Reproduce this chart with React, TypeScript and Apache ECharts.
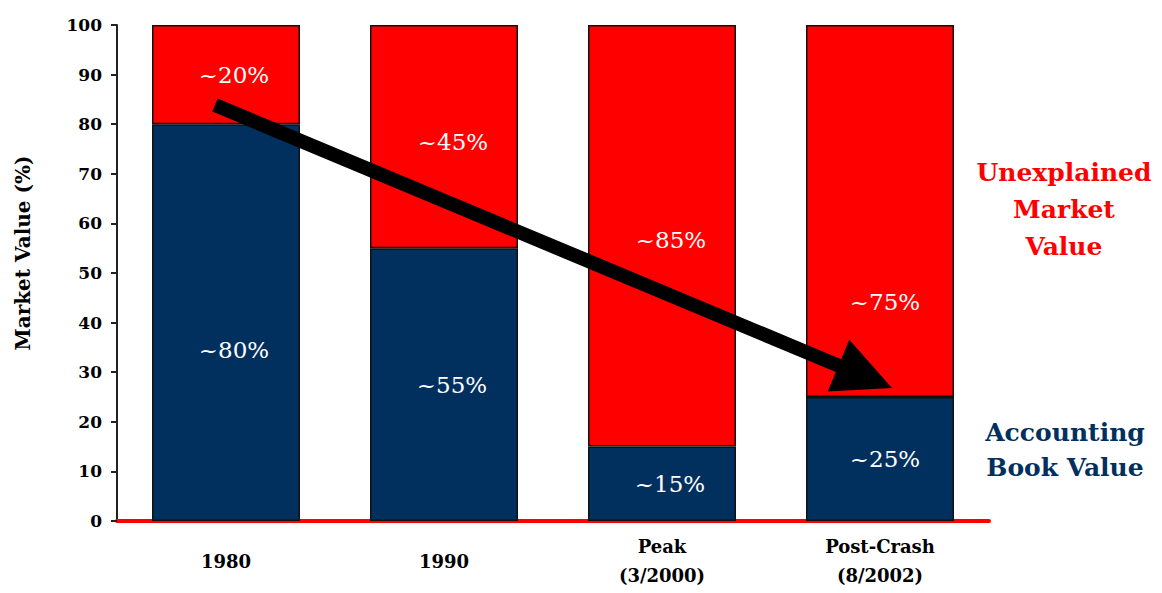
import React, { useEffect, useRef } from "react";
import * as echarts from "echarts";

// Share of market value explained by book value vs. unexplained, by period
const categories = ["1980", "1990", "Peak\n(3/2000)", "Post-Crash\n(8/2002)"];
const bookValue = [80, 55, 15, 25];
const unexplainedValue = [20, 45, 85, 75];
const yTicks = { min: 0, max: 100, interval: 10 };

const NAVY = "#02305E";
const RED = "#FF0000";
const SERIF = "'DejaVu Serif', serif";

// Label nudges so the percentages sit clear of the trend arrow
const bookLabelOffsets: [number, number][] = [[8, 27], [8, 0], [8, 0], [5, 0]];
const unexplainedLabelOffsets: [number, number][] = [[8, 0], [9, 5], [9, 4], [5, 91]];

// Thick arrow polygon from a start point to a tip
function arrowPoints(sx: number, sy: number, tx: number, ty: number, shaftHalf: number, headLen: number, headHalf: number) {
  const dx = tx - sx;
  const dy = ty - sy;
  const len = Math.hypot(dx, dy);
  const ux = dx / len;
  const uy = dy / len;
  const nx = -uy;
  const ny = ux;
  const bx = tx - ux * headLen;
  const by = ty - uy * headLen;
  return [
    [sx + nx * shaftHalf, sy + ny * shaftHalf],
    [bx + nx * shaftHalf, by + ny * shaftHalf],
    [bx + nx * headHalf, by + ny * headHalf],
    [tx, ty],
    [bx - nx * headHalf, by - ny * headHalf],
    [bx - nx * shaftHalf, by - ny * shaftHalf],
    [sx - nx * shaftHalf, sy - ny * shaftHalf],
  ];
}

export default function App() {
  const ref = useRef<HTMLDivElement>(null);

  useEffect(() => {
    if (!ref.current) return;
    const chart = echarts.init(ref.current, null, { renderer: "svg" });

    const labelBase = {
      show: true,
      position: "inside" as const,
      color: "#FFFFFF",
      fontFamily: SERIF,
      fontSize: 23,
      formatter: "~{c}%",
    };

    chart.setOption({
      animation: false,
      backgroundColor: "#FFFFFF",
      grid: { left: 117, right: 173, top: 25, bottom: 72, containLabel: false },
      xAxis: {
        type: "category",
        data: categories,
        axisLine: { show: true, lineStyle: { color: RED, width: 4 } },
        axisTick: { show: false },
        axisLabel: {
          color: "#000000",
          fontFamily: SERIF,
          fontWeight: "bold",
          fontSize: 18,
          lineHeight: 29,
          verticalAlign: "middle",
          margin: 40,
        },
      },
      yAxis: {
        type: "value",
        min: yTicks.min,
        max: yTicks.max,
        interval: yTicks.interval,
        axisLine: { show: true, lineStyle: { color: "#222222", width: 2 } },
        axisTick: { show: true, inside: false, length: 6, lineStyle: { color: "#222222", width: 2 } },
        splitLine: { show: false },
        axisLabel: {
          color: "#000000",
          fontFamily: SERIF,
          fontWeight: "bold",
          fontSize: 17,
          margin: 15,
        },
      },
      series: [
        {
          name: "Accounting Book Value",
          type: "bar",
          stack: "mv",
          barWidth: 148,
          z: 2,
          itemStyle: { color: NAVY, borderColor: "#111111", borderWidth: 1.5 },
          data: bookValue.map((v, i) => ({ value: v, label: { ...labelBase, offset: bookLabelOffsets[i] } })),
        },
        {
          name: "Unexplained Market Value",
          type: "bar",
          stack: "mv",
          barWidth: 148,
          z: 2,
          itemStyle: { color: RED, borderColor: "#111111", borderWidth: 1.5 },
          data: unexplainedValue.map((v, i) => ({ value: v, label: { ...labelBase, offset: unexplainedLabelOffsets[i] } })),
        },
      ],
      graphic: [
        {
          type: "text",
          x: 23,
          y: 253,
          rotation: Math.PI / 2,
          style: {
            text: "Market Value (%)",
            fill: "#000000",
            font: `bold 20px ${SERIF}`,
            align: "center",
            verticalAlign: "middle",
          },
        },
        {
          type: "text",
          x: 1064,
          y: 209,
          style: {
            text: "Unexplained\nMarket\nValue",
            fill: RED,
            font: `bold 25px ${SERIF}`,
            lineHeight: 37,
            align: "center",
            verticalAlign: "middle",
          },
        },
        {
          type: "text",
          x: 1065,
          y: 450,
          style: {
            text: "Accounting\nBook Value",
            fill: NAVY,
            font: `bold 25px ${SERIF}`,
            lineHeight: 35,
            align: "center",
            verticalAlign: "middle",
          },
        },
        {
          type: "polygon",
          z: 100,
          shape: { points: arrowPoints(215, 105, 892, 388, 7, 58, 28) },
          style: { fill: "#000000" },
        },
      ],
    });

    return () => chart.dispose();
  }, []);

  return (
    <div
      ref={ref}
      style={{ position: "fixed", left: 0, top: 0, width: 1162, height: 593, background: "#FFFFFF" }}
    />
  );
}
